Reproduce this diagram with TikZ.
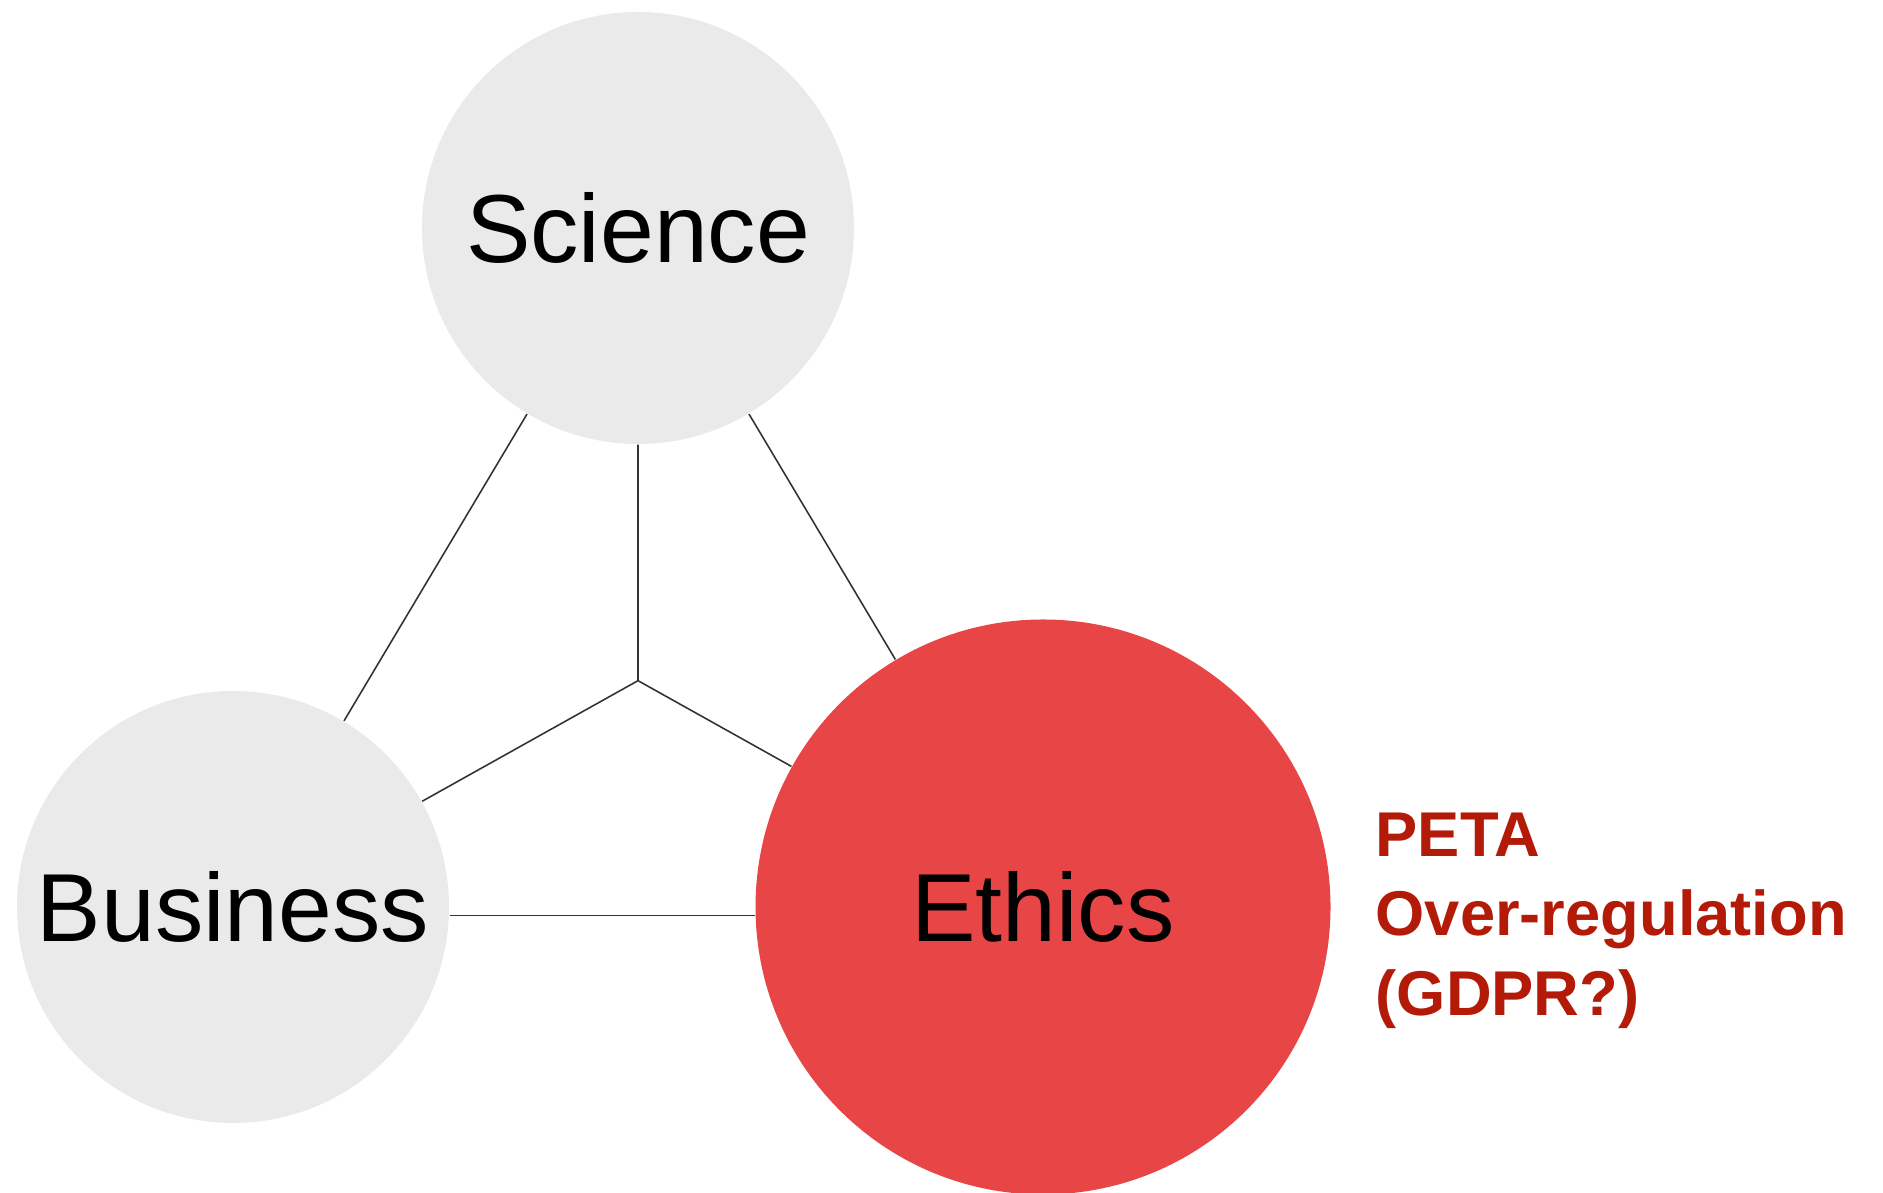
\documentclass[tikz,border=0pt]{standalone}
\usepackage{fontspec}
\setmainfont{Liberation Sans}
\usepackage{xcolor}
\usetikzlibrary{positioning, backgrounds, calc}
\definecolor{softgray}{HTML}{EAEAEA}
\definecolor{ethicsred}{HTML}{E84646}
\definecolor{notered}{HTML}{B31A07}
\definecolor{linkgray}{HTML}{333333}
\tikzstyle{field} = [circle, minimum size=4.32cm, inner sep=0pt, text centered, fill=softgray, font=\fontsize{27.5}{32}\selectfont]
\tikzstyle{focus} = [field, minimum size=5.75cm, fill=ethicsred]
\tikzstyle{note} = [align=left, inner sep=0pt, text=notered, font=\fontsize{18}{22.6}\selectfont\bfseries]
\tikzstyle{link} = [line width=0.45pt, draw=linkgray, -]

\begin{document}
\begin{tikzpicture}
\useasboundingbox (0,0) rectangle (18.83,11.93);

% Three fields
\node (science) [field] at (6.38,9.65) {Science};
\node (business) [field] at (2.33,2.86) {Business};
\node (ethics) [focus] at (10.43,2.86) {Ethics};

% Side note next to Ethics
\node (concerns) [note, anchor=north west] at (13.75,3.81) {PETA\\Over-regulation\\(GDPR?)};

% Hub in the middle of the triangle
\coordinate (hub) at (barycentric cs:science=1,business=1,ethics=1);

% Links
\begin{scope}[on background layer]
\draw [link] (science) -- (business);
\draw [link] (science) -- (ethics);
\draw [link] ([yshift=-0.85mm]business.east) -- ([yshift=-0.85mm]ethics.west);
\draw [link] (hub) -- (science);
\draw [link] (hub) -- (business);
\draw [link] (hub) -- (ethics);
\end{scope}

\end{tikzpicture}
\end{document}
